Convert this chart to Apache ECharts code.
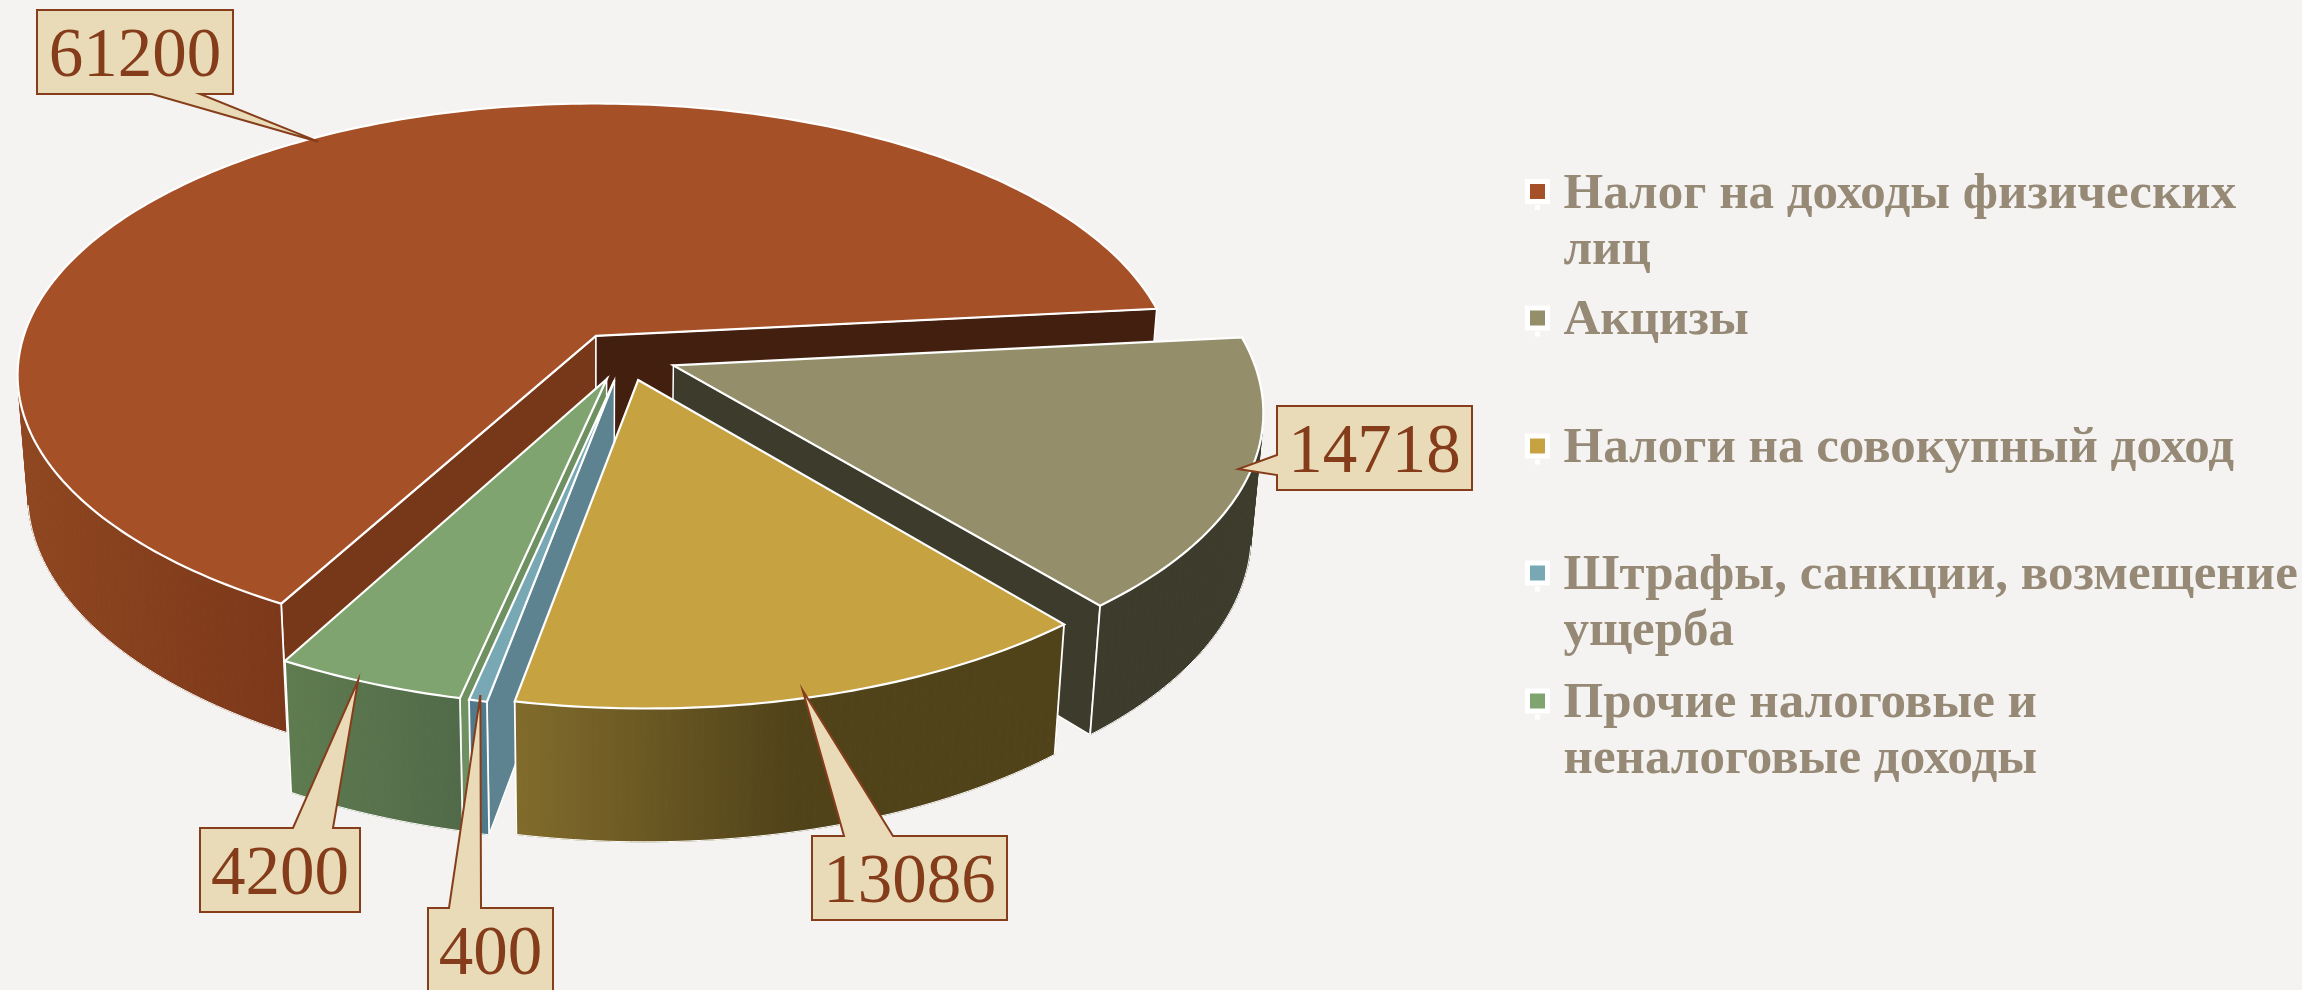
<!DOCTYPE html>
<html>
<head>
<meta charset="utf-8">
<style>html,body{margin:0;padding:0;background:#f4f3f1;overflow:hidden}#c{width:2302px;height:990px}</style>
<script src="https://cdn.jsdelivr.net/npm/echarts@6/dist/echarts.min.js"></script>
</head>
<body>
<div id="c"></div>
<script>
// --- data ---
const categories = [
  'Налог на доходы физических лиц',
  'Акцизы',
  'Налоги на совокупный доход',
  'Штрафы, санкции, возмещение ущерба',
  'Прочие налоговые и неналоговые доходы'
];
const wrappedNames = [
  'Налог на доходы физических\nлиц',
  'Акцизы',
  'Налоги на совокупный доход',
  'Штрафы, санкции, возмещение\nущерба',
  'Прочие налоговые и\nненалоговые доходы'
];
const values = [61200, 14718, 13086, 400, 4200];

// --- style ---
const topColors = ['#a55027', '#958e6b', '#c6a241', '#77a8b4', '#7fa46f'];
const startWallColors = ['#763819', '#3d3b2c', '#54451a', '#5e8390', '#6f9161'];
const endWallColors = ['#421f0e', '#3d3b2c', '#54451a', '#5e8390', '#56704c'];
const rimGradients = [
  [15, 285, '#8f4720', '#7c381a'],
  [1090, 1260, '#3d3b2c', '#3d3b2c'],
  [515, 790, '#826c2c', '#514319'],
  [470, 490, '#4f7a8c', '#4f7a8c'],
  [285, 460, '#5f7c50', '#516a49']
];
const drawOrder = [0, 1, 4, 3, 2];
const legendCentres = [191.5, 318, 446, 573, 701];
// callout box [x, y, w, h], side carrying the pointer, pointer base along that side
const calloutBoxes = [
  [37, 10, 196, 84, 'bottom', 152, 200],
  [1277, 406, 195, 84, 'left', 455, 475],
  [812, 836, 195, 84, 'top', 844, 893],
  [428, 908, 125, 84, 'top', 449, 481],
  [200, 828, 160, 84, 'top', 293, 333]
];
// where each pointer lands: angle offset from the slice's middle, fraction of the radius
const calloutAnchors = [[0, 0.98], [-1, 0.98], [0.6, 0.98], [0, 0.985], [1, 1]];

// --- projection of the tilted, exploded pie ---
const view = { cx: 593, cy: 335, a: 572, b: 266, k: 0.146, m: 0.0175, d: 119.5 };
const pieCentre = [0.055, 0.078];
const explosion = 0.09;
const firstAngle = 118.7;
const total = values.reduce((s, v) => s + v, 0);

function project(X, Y, z) {
  const w = 1 - view.k * Y + view.m * z;
  return [view.cx + view.a * X / w, view.cy + (view.b * Y + view.d * z) / w];
}
function sliceGeometry(i) {
  let acc = 0;
  for (let j = 0; j < i; j++) acc += values[j];
  const start = firstAngle + acc / total * 360;
  const end = start + values[i] / total * 360;
  const mid = (start + end) / 2 * Math.PI / 180;
  const ox = pieCentre[0] + explosion * Math.cos(mid);
  const oy = pieCentre[1] + explosion * Math.sin(mid);
  return { start, end, mid, ox, oy };
}
function rim(g, deg, z, r) {
  const t = deg * Math.PI / 180;
  const rr = r === undefined ? 1 : r;
  return project(g.ox + rr * Math.cos(t), g.oy + rr * Math.sin(t), z);
}
function angleSteps(g) {
  const n = Math.max(4, Math.ceil(g.end - g.start));
  const out = [];
  for (let s = 0; s <= n; s++) out.push(g.start + (g.end - g.start) * s / n);
  return out;
}
function cross(o, a, b) {
  return (a[0] - o[0]) * (b[1] - o[1]) - (a[1] - o[1]) * (b[0] - o[0]);
}
function poly(points, fill, lw, stroke) {
  return {
    type: 'polygon',
    shape: { points: points },
    style: { fill: fill, stroke: stroke || '#ffffff', lineWidth: lw, lineJoin: 'miter' }
  };
}
function whiteLine(points, lw) {
  return {
    type: 'polyline',
    shape: { points: points },
    style: { fill: null, stroke: '#ffffff', lineWidth: lw }
  };
}
function calloutPoints(box, tip) {
  const x = box[0], y = box[1], w = box[2], h = box[3], side = box[4], p = box[5], q = box[6];
  if (side === 'top') return [[x, y], [p, y], tip, [q, y], [x + w, y], [x + w, y + h], [x, y + h]];
  if (side === 'bottom') return [[x, y], [x + w, y], [x + w, y + h], [q, y + h], tip, [p, y + h], [x, y + h]];
  return [[x, y], [x + w, y], [x + w, y + h], [x, y + h], [x, q], tip, [x, p]];
}

function renderSlice(i) {
  return function (params, api) {
    const g = sliceGeometry(i);
    const apex0 = project(g.ox, g.oy, 0), apex1 = project(g.ox, g.oy, 1);
    const midDeg = g.mid * 180 / Math.PI;
    const grad = rimGradients[i];
    const rimFill = new echarts.graphic.LinearGradient(grad[0], 0, grad[1], 0,
      [{ offset: 0, color: grad[2] }, { offset: 1, color: grad[3] }], true);
    const children = [];

    // radial walls: only those turned towards the viewer
    [[g.start, startWallColors[i]], [g.end, endWallColors[i]]].forEach(function (w) {
      const r0 = rim(g, w[0], 0);
      const wallSide = cross(apex0, r0, apex1);
      const sliceSide = cross(apex0, r0, rim(g, midDeg, 0));
      if (wallSide * sliceSide < 0) {
        children.push(poly([apex0, r0, rim(g, w[0], 1), apex1], w[1], 1.5));
      }
    });

    // outer wall: one facet per step, front-facing ones only
    const steps = angleSteps(g);
    const bottomRun = [];
    let firstVisible = null, lastVisible = null;
    for (let s = 0; s < steps.length - 1; s++) {
      const a0 = rim(g, steps[s], 0), a1 = rim(g, steps[s + 1], 0);
      const b0 = rim(g, steps[s], 1), b1 = rim(g, steps[s + 1], 1);
      if (cross(a0, a1, b1) < 0) {
        children.push(poly([a0, a1, b1, b0], rimFill, 1, rimFill));
        if (firstVisible === null) { firstVisible = s; bottomRun.push(b0); }
        lastVisible = s;
        bottomRun.push(b1);
      }
    }
    if (bottomRun.length > 1) children.push(whiteLine(bottomRun, 1));
    // white corner edges where the outer wall meets a radial wall
    if (firstVisible === 0) children.push(whiteLine([rim(g, g.start, 0), rim(g, g.start, 1)], 1.8));
    if (lastVisible === steps.length - 2) children.push(whiteLine([rim(g, g.end, 0), rim(g, g.end, 1)], 1.8));

    // top face
    children.push(poly([apex0].concat(steps.map(d => rim(g, d, 0))), topColors[i], 2.2));

    // callout
    const box = calloutBoxes[i];
    const anchor = calloutAnchors[i];
    const tip = rim(g, midDeg + anchor[0], 0, anchor[1]);
    children.push({
      type: 'polygon',
      shape: { points: calloutPoints(box, tip) },
      style: { fill: '#e9dbb7', stroke: '#863d1b', lineWidth: 2, lineJoin: 'miter' }
    });
    children.push({
      type: 'text',
      style: {
        text: String(api.value(0)),
        x: box[0] + box[2] / 2,
        y: box[1] + box[3] / 2 + 6,
        align: 'center',
        verticalAlign: 'middle',
        fill: '#843c1a',
        font: '69px "Liberation Serif"'
      }
    });
    return { type: 'group', children: children };
  };
}

const series = drawOrder.map(i => ({
  type: 'custom',
  name: categories[i],
  coordinateSystem: 'none',
  silent: true,
  itemStyle: { color: topColors[i] },
  renderItem: renderSlice(i),
  data: [[values[i]]],
  animation: false
}));

const legends = categories.map((name, i) => {
  const two = wrappedNames[i].indexOf('\n') >= 0;
  return {
    data: [name],
    orient: 'vertical',
    left: 1525,
    top: legendCentres[i] - (two ? 84 : 28) + 3,
    padding: 0,
    selectedMode: false,
    // square in the upper part of the icon box, so the text sits a little lower than its centre
    icon: 'path://M0,0H20V20H0Z M10,26h0.01v0.01h-0.01Z',
    itemWidth: 20,
    itemHeight: 26,
    itemStyle: { borderColor: '#ffffff', borderWidth: 5 },
    // a leading empty line keeps the first text line level with the icon
    formatter: () => (two ? '\n' : '') + wrappedNames[i],
    textStyle: {
      fontFamily: 'Liberation Serif',
      fontWeight: 'bold',
      fontSize: 51,
      lineHeight: 56,
      color: '#968a76',
      padding: [0, 0, 0, 11]
    }
  };
});

const chart = echarts.init(document.getElementById('c'), null, { renderer: 'canvas' });
chart.setOption({
  animation: false,
  backgroundColor: '#f4f3f1',
  legend: legends,
  series: series
});
</script>
</body>
</html>
